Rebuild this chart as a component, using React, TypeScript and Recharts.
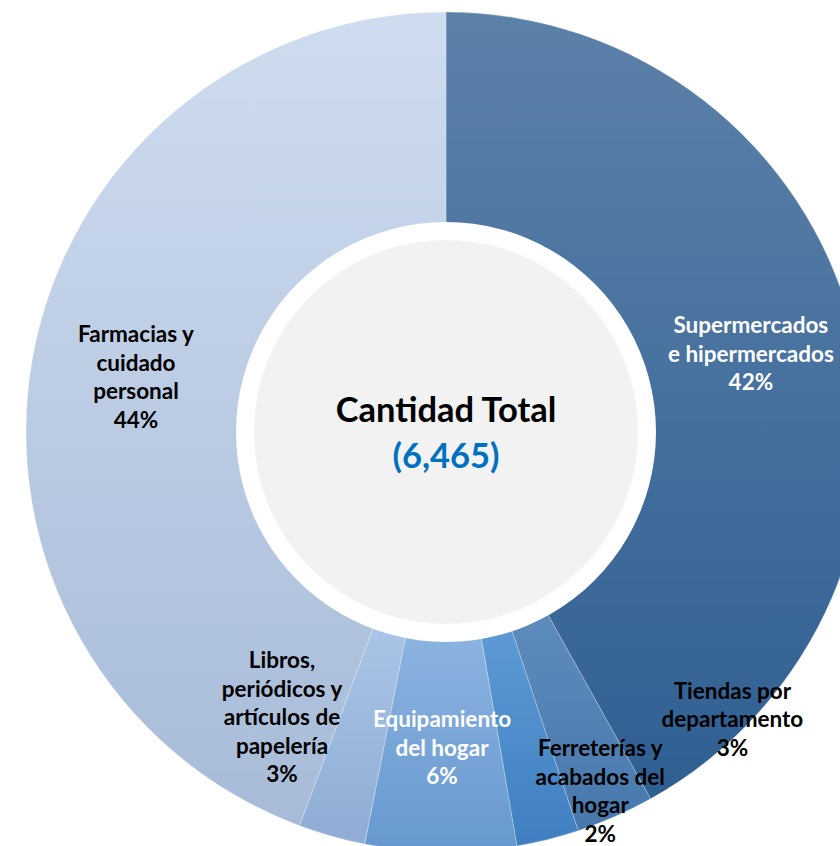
import { PieChart, Pie, Cell } from "recharts";

const categories = [
  "Supermercados\ne hipermercados",
  "Tiendas por\ndepartamento",
  "Ferreterías y\nacabados del\nhogar",
  "Equipamiento\ndel hogar",
  "Libros,\nperiódicos y\nartículos de\npapelería",
  "Farmacias y\ncuidado\npersonal",
];
const counts = [2709, 194, 155, 375, 166, 2866];
const centerTitle = "Cantidad Total";

const data = categories.map((name, i) => ({ name, value: counts[i] }));
const total = counts.reduce((a, b) => a + b, 0);

const gradients = [
  ["#5c81a9", "#2f5f92"],
  ["#5e8cbc", "#4778ad"],
  ["#5e9bd5", "#3f7fc1"],
  ["#8db4e1", "#6698cf"],
  ["#aac5e7", "#8eacd4"],
  ["#cedcef", "#a7bbd8"],
];
const labelColors = ["#ffffff", "#000000", "#000000", "#ffffff", "#000000", "#000000"];

// crowded small slices get their labels pushed out (radius, degrees clockwise from top)
const labelNudge: Record<number, { r: number; a: number }> = {
  1: { r: 405, a: 135 },
  2: { r: 390, a: 156.7 },
  4: { r: 328, a: 210 },
};

const FONT = "Lato, 'Open Sans', sans-serif";
const RAD = Math.PI / 180;

const renderLabel = (props: any) => {
  const { cx, cy, midAngle, index, value } = props;
  let x = cx + 315 * Math.cos(-midAngle * RAD);
  let y = cy + 315 * Math.sin(-midAngle * RAD);
  const nudge = labelNudge[index];
  if (nudge) {
    x = cx + nudge.r * Math.sin(nudge.a * RAD);
    y = cy - nudge.r * Math.cos(nudge.a * RAD);
  }
  const lines = [...categories[index].split("\n"), `${Math.round((value / total) * 100)}%`];
  const lh = 28.5;
  return (
    <text
      x={x}
      y={y}
      textAnchor="middle"
      dominantBaseline="central"
      fill={labelColors[index]}
      fontFamily={FONT}
      fontWeight={700}
      fontSize={22.5}
    >
      {lines.map((line, i) => (
        <tspan key={i} x={x} dy={i === 0 ? -((lines.length - 1) / 2) * lh : lh}>
          {line}
        </tspan>
      ))}
    </text>
  );
};

const renderCenter = (props: any) => {
  const { cx, cy } = props;
  return (
    <g>
      <text x={cx} y={cy - 10} textAnchor="middle" fontFamily={FONT} fontWeight={700} fontSize={34.5} fill="#000000">
        {centerTitle}
      </text>
      <text x={cx} y={cy + 36} textAnchor="middle" fontFamily={FONT} fontWeight={700} fontSize={34.5} fill="#0070c0">
        ({total.toLocaleString("en-US")})
      </text>
    </g>
  );
};

export default function App() {
  return (
    <div style={{ position: "absolute", left: 0, top: 0, background: "#ffffff" }}>
      <PieChart width={840} height={846} margin={{ top: 0, right: 0, bottom: 0, left: 0 }}>
        <defs>
          {gradients.map(([a, b], i) => (
            <linearGradient key={i} id={`slice${i}`} x1="0" y1="0" x2="0" y2="1">
              <stop offset="0%" stopColor={a} />
              <stop offset="100%" stopColor={b} />
            </linearGradient>
          ))}
        </defs>
        <Pie
          data={data}
          dataKey="value"
          cx={446}
          cy={432}
          innerRadius={200}
          outerRadius={420}
          startAngle={90}
          endAngle={-270}
          stroke="#ffffff"
          strokeOpacity={0.4}
          strokeWidth={0.6}
          label={renderLabel}
          labelLine={false}
          isAnimationActive={false}
        >
          {data.map((d, i) => (
            <Cell key={d.name} fill={`url(#slice${i})`} />
          ))}
        </Pie>
        <Pie
          data={[{ value: 1 }]}
          dataKey="value"
          cx={446}
          cy={432}
          innerRadius={0}
          outerRadius={210}
          startAngle={90}
          endAngle={-270}
          fill="#ffffff"
          stroke="none"
          isAnimationActive={false}
        />
        <Pie
          data={[{ value: 1 }]}
          dataKey="value"
          cx={446}
          cy={432}
          innerRadius={0}
          outerRadius={192}
          startAngle={90}
          endAngle={-270}
          fill="#f2f2f2"
          stroke="none"
          label={renderCenter}
          labelLine={false}
          isAnimationActive={false}
        />
      </PieChart>
    </div>
  );
}
